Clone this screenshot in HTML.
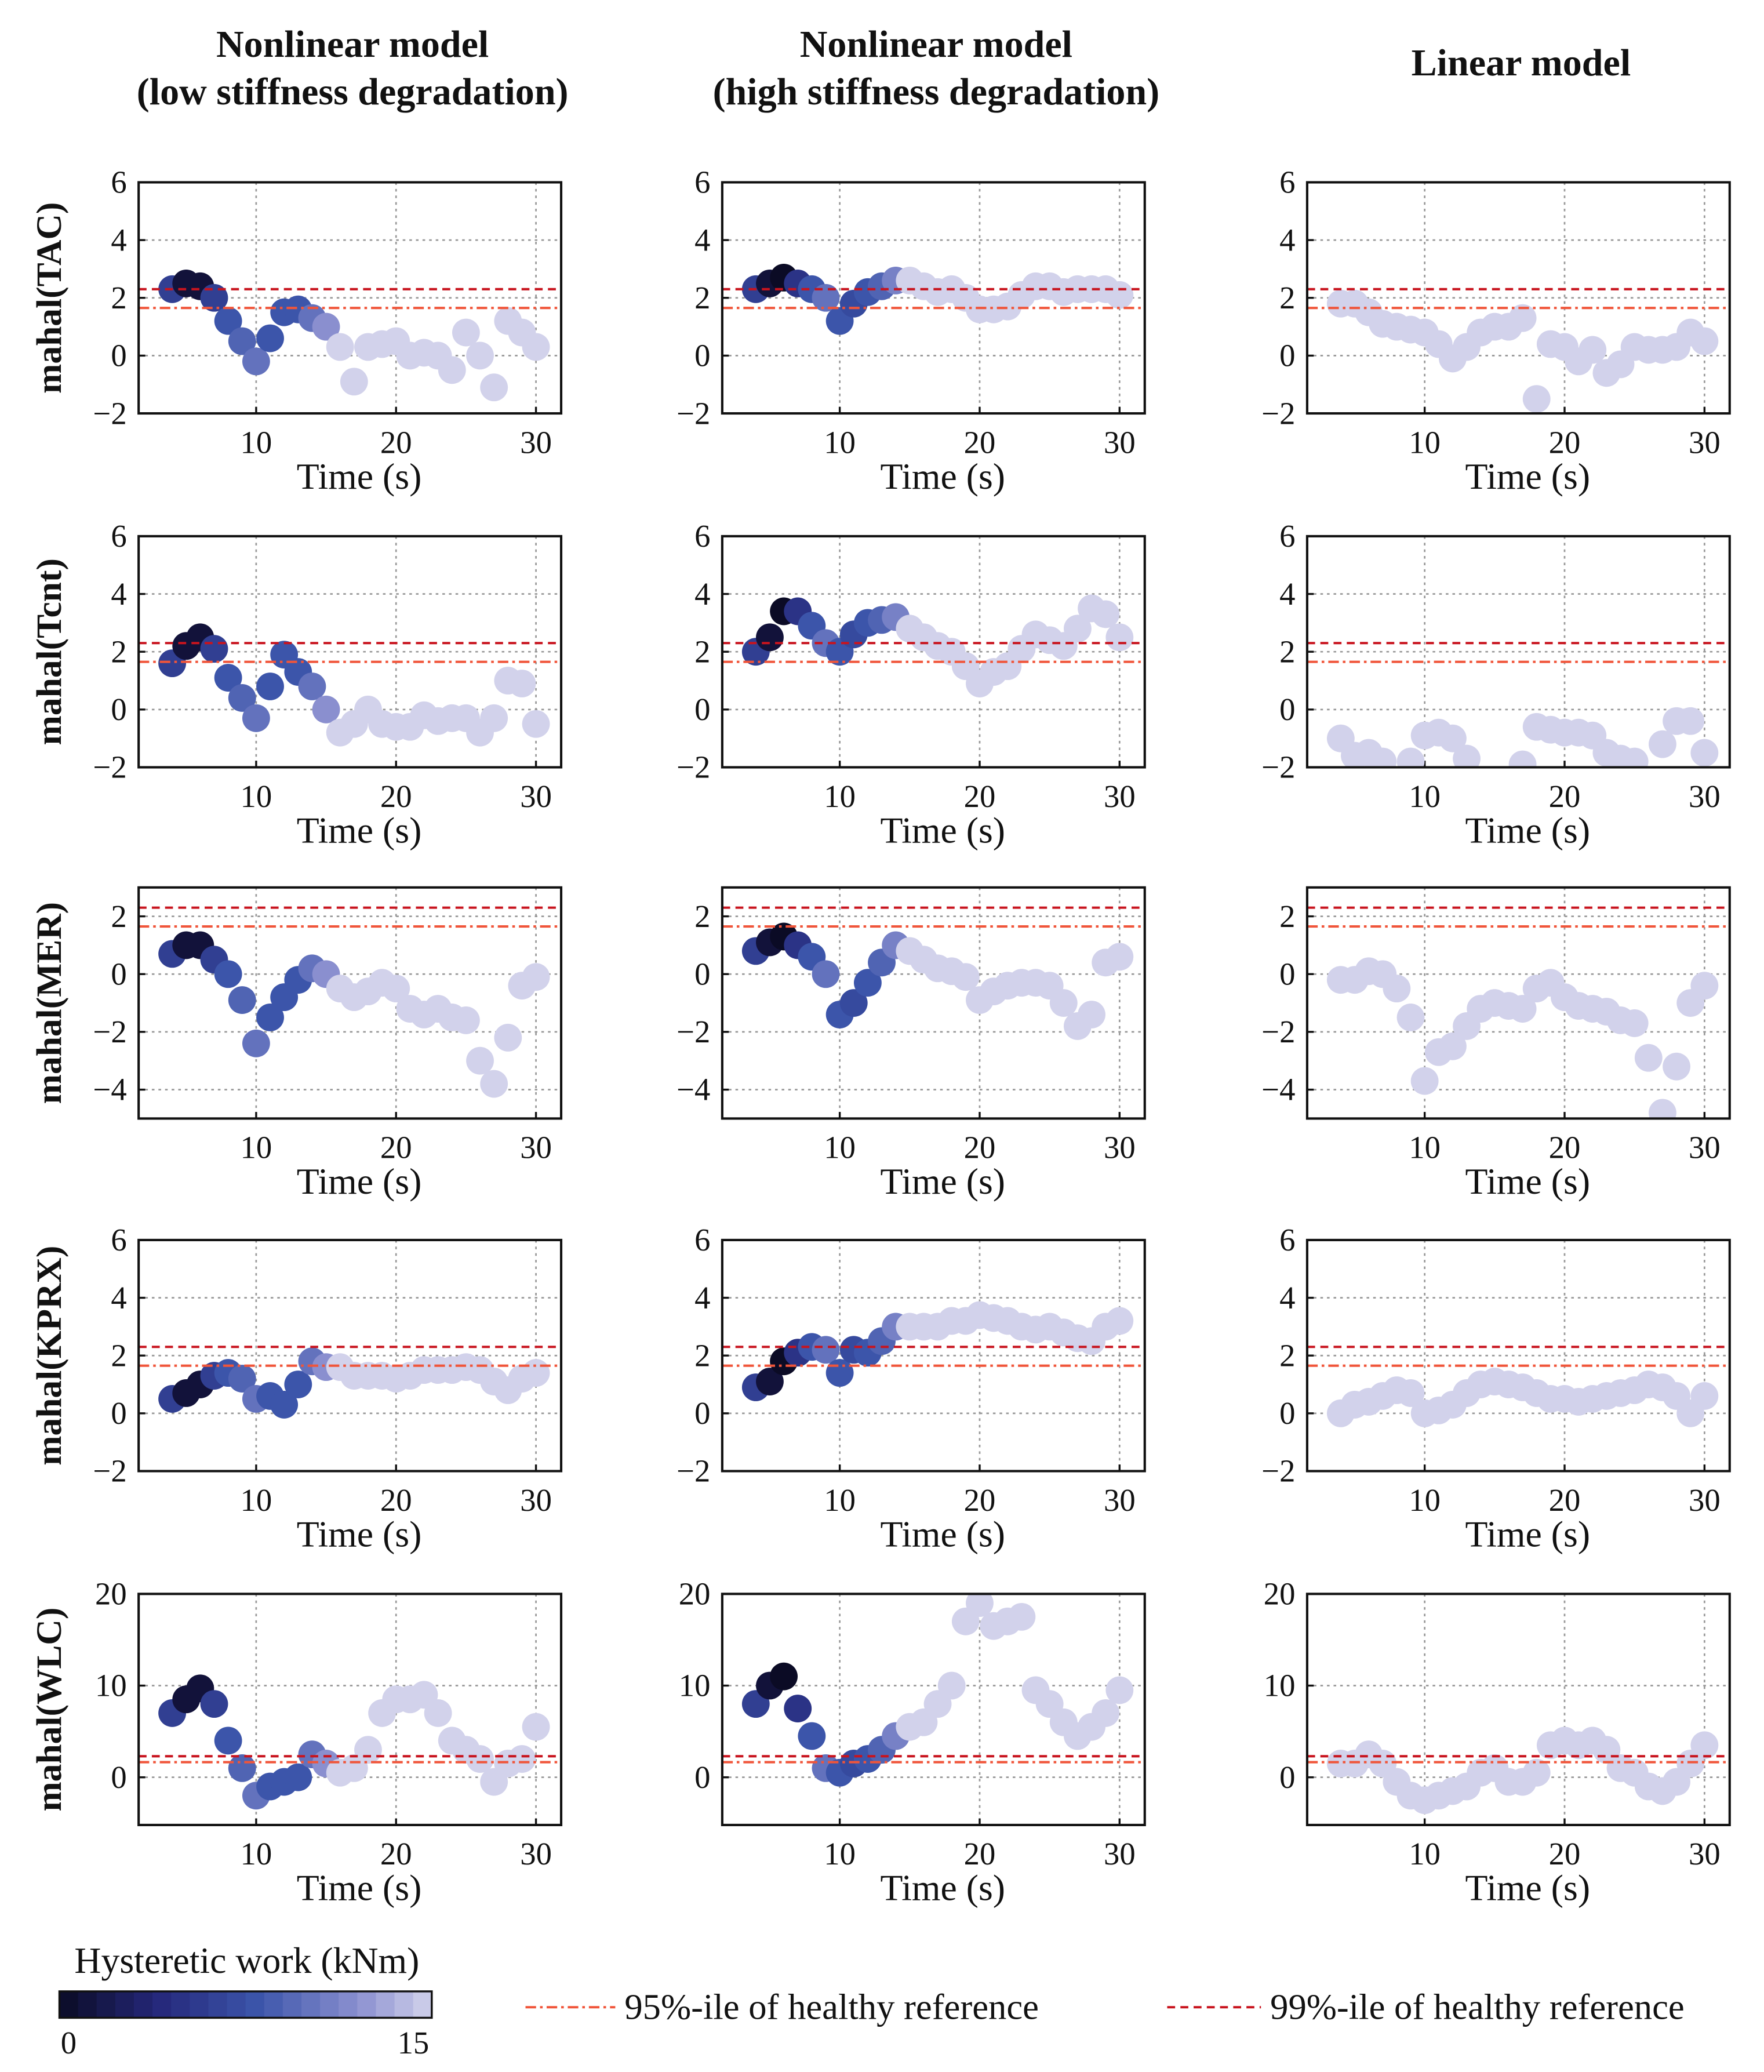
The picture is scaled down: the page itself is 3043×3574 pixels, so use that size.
<!DOCTYPE html>
<html><head><meta charset="utf-8">
<style>
html,body{margin:0;padding:0;background:#fff;}
svg{display:block;}
text{font-family:"Liberation Serif",serif;fill:#111;}
</style></head>
<body>
<svg id="chart" width="3043" height="3574" viewBox="0 0 1336 1569" xmlns="http://www.w3.org/2000/svg">
<rect width="1336" height="1569" fill="#fff"/>
</svg>
<script>
const times = [4,5,6,7,8,9,10,11,12,13,14,15,16,17,18,19,20,21,22,23,24,25,26,27,28,29,30];
const workLow = [6,1,1,6,8,9,10,8,8,8,10,12,15,15,15,15,15,15,15,15,15,15,15,15,15,15,15];
const workHigh = [6,1,0,5,8,10,8,7,8,9,11,15,15,15,15,15,15,15,15,15,15,15,15,15,15,15,15];
const workLin = [15,15,15,15,15,15,15,15,15,15,15,15,15,15,15,15,15,15,15,15,15,15,15,15,15,15,15];
const tacLow = [2.3,2.5,2.4,2.0,1.2,0.5,-0.2,0.6,1.5,1.6,1.3,1.0,0.3,-0.9,0.3,0.4,0.5,0.0,0.1,0.0,-0.5,0.8,0.0,-1.1,1.2,0.8,0.3];
const tacHigh = [2.3,2.5,2.7,2.5,2.3,2.0,1.2,1.8,2.2,2.4,2.6,2.6,2.4,2.2,2.3,2.0,1.6,1.6,1.7,2.1,2.4,2.4,2.2,2.3,2.3,2.3,2.1];
const tacLin = [1.8,1.8,1.5,1.1,1.0,0.9,0.8,0.4,-0.1,0.3,0.8,1.0,1.0,1.3,-1.5,0.4,0.3,-0.2,0.2,-0.6,-0.3,0.3,0.2,0.2,0.3,0.8,0.5];
const tcntLow = [1.6,2.2,2.5,2.1,1.1,0.4,-0.3,0.8,1.9,1.3,0.8,0.0,-0.8,-0.5,0.0,-0.5,-0.6,-0.6,-0.2,-0.4,-0.3,-0.3,-0.8,-0.3,1.0,0.9,-0.5];
const tcntHigh = [2.0,2.5,3.4,3.4,2.9,2.3,2.0,2.6,3.0,3.1,3.2,2.8,2.5,2.2,2.0,1.5,0.9,1.3,1.5,2.1,2.6,2.4,2.2,2.8,3.5,3.3,2.5];
const tcntLin = [-1.0,-1.6,-1.5,-1.8,-2.6,-1.8,-0.9,-0.8,-1.0,-1.7,-2.6,-2.6,-2.6,-1.9,-0.6,-0.7,-0.8,-0.8,-0.9,-1.5,-1.7,-1.8,-2.6,-1.2,-0.4,-0.4,-1.5];
const merLow = [0.7,1.0,1.0,0.5,0.0,-0.9,-2.4,-1.5,-0.8,-0.2,0.2,0.0,-0.5,-0.8,-0.6,-0.3,-0.5,-1.2,-1.4,-1.2,-1.5,-1.6,-3.0,-3.8,-2.2,-0.4,-0.1];
const merHigh = [0.8,1.1,1.3,1.0,0.6,0.0,-1.4,-1.0,-0.3,0.4,1.0,0.8,0.5,0.2,0.1,-0.1,-0.9,-0.6,-0.4,-0.3,-0.3,-0.4,-1.0,-1.8,-1.4,0.4,0.6];
const merLin = [-0.2,-0.2,0.1,0.0,-0.5,-1.5,-3.7,-2.7,-2.5,-1.8,-1.2,-1.0,-1.1,-1.2,-0.5,-0.3,-0.8,-1.1,-1.2,-1.3,-1.6,-1.7,-2.9,-4.8,-3.2,-1.0,-0.4];
const kprxLow = [0.5,0.7,1.0,1.3,1.4,1.2,0.5,0.6,0.3,1.0,1.8,1.6,1.6,1.3,1.3,1.3,1.2,1.3,1.5,1.5,1.5,1.6,1.5,1.1,0.8,1.2,1.4];
const kprxHigh = [0.9,1.1,1.8,2.1,2.3,2.2,1.4,2.2,2.1,2.5,3.0,3.0,3.0,3.0,3.2,3.2,3.4,3.3,3.2,3.0,2.9,3.0,2.8,2.6,2.5,3.0,3.2];
const kprxLin = [0.0,0.3,0.4,0.6,0.8,0.7,0.0,0.1,0.3,0.7,1.0,1.1,1.0,0.9,0.7,0.5,0.5,0.4,0.5,0.6,0.7,0.8,1.0,0.9,0.6,0.0,0.6];
const wlcLow = [7,8.5,9.7,8,4,1,-2,-1,-0.5,0,2.5,1.5,0.5,1,3,7,8.5,8.5,9,7,4,3,2,-0.5,1.5,2,5.5];
const wlcHigh = [8,10,11,7.5,4.5,1,0.5,1.5,2,3,4.5,5.5,6,8,10,17,19,16.5,17,17.5,9.5,8,6,4.5,5.5,7,9.5];
const wlcLin = [1.5,1.5,2.5,1.5,-0.5,-2,-2.5,-2,-1.5,-1,0.5,1,-0.5,-0.5,0.5,3.5,4,3.5,4,3,1,0.5,-1,-1.5,-0.5,1.5,3.5];
const xTicks = [10,20,30];
const rowNames = ["TAC","Tcnt","MER","KPRX","WLC"];
const yTicksRows = [[-2,0,2,4,6],[-2,0,2,4,6],[-4,-2,0,2],[-2,0,2,4,6],[0,10,20]];
const yDomains = [[-2,6],[-2,6],[-5,3],[-2,6],[-5.2,20]];
const colTitles = [["Nonlinear model","(low stiffness degradation)"],["Nonlinear model","(high stiffness degradation)"],["Linear model"]];
const thr95 = 1.65, thr99 = 2.3;
const series = [[tacLow,tacHigh,tacLin],[tcntLow,tcntHigh,tcntLin],[merLow,merHigh,merLin],[kprxLow,kprxHigh,kprxLin],[wlcLow,wlcHigh,wlcLin]];
const works = [workLow,workHigh,workLin];

const NS="http://www.w3.org/2000/svg";
const svg=document.getElementById('chart');
function el(tag,attrs,parent){const e=document.createElementNS(NS,tag);for(const k in attrs)e.setAttribute(k,attrs[k]);(parent||svg).appendChild(e);return e;}
const stops=[[0,[11,11,37]],[4,[37,40,122]],[8,[60,85,170]],[12,[138,143,207]],[15,[210,210,235]]];
function cmap(v){v=Math.max(0,Math.min(15,v));for(let i=0;i<stops.length-1;i++){const a=stops[i],b=stops[i+1];if(v<=b[0]){const f=(v-a[0])/(b[0]-a[0]);const c=a[1].map((x,j)=>Math.round(x+(b[1][j]-x)*f));return `rgb(${c[0]},${c[1]},${c[2]})`;}}return 'rgb(210,210,235)';}
const colX=[105,547,990], W=320;
const rowY=[138,406,672,939,1207], H=175;
const xDom=[1.6,31.8];
const defs=el('defs',{});
colTitles.forEach((t,c)=>{
  const cx=colX[c]+W/2+2;
  const tx=el('text',{x:cx,y:t.length>1?43:57,'text-anchor':'middle','font-size':29,'font-weight':'bold'});
  
  
  t.forEach((line,i)=>{const ts=el('tspan',{x:cx,dy:i?36:0},tx);ts.textContent=line;});
});
for(let r=0;r<5;r++){for(let c=0;c<3;c++){
  const x0=colX[c], y0=rowY[r], d=yDomains[r];
  const sx=t=>x0+(t-xDom[0])/(xDom[1]-xDom[0])*W;
  const sy=v=>y0+H-(v-d[0])/(d[1]-d[0])*H;
  const g=el('g',{});
  
  
  const cid=`clip${r}${c}`;
  const cp=el('clipPath',{id:cid},defs);el('rect',{x:x0,y:y0,width:W,height:H},cp);
  xTicks.forEach(t=>{el('line',{x1:sx(t),x2:sx(t),y1:y0,y2:y0+H,stroke:'#999','stroke-width':1.2,'stroke-dasharray':'2,3'},g);
    el('line',{x1:sx(t),x2:sx(t),y1:y0+H,y2:y0+H-5,stroke:'#111','stroke-width':1.5},g);
    const tl=el('text',{x:sx(t),y:y0+H+30,'text-anchor':'middle','font-size':24},g);tl.textContent=t;});
  yTicksRows[r].forEach(v=>{el('line',{x1:x0,x2:x0+W,y1:sy(v),y2:sy(v),stroke:'#999','stroke-width':1.2,'stroke-dasharray':'2,3'},g);
    el('line',{x1:x0,x2:x0+5,y1:sy(v),y2:sy(v),stroke:'#111','stroke-width':1.5},g);
    const tl=el('text',{x:x0-9,y:sy(v)+8,'text-anchor':'end','font-size':24},g);tl.textContent=(v<0?'\u2212'+(-v):v);});
  const pts=el('g',{'clip-path':`url(#${cid})`},g);
  
  
  const vals=series[r][c], wk=works[c];
  times.forEach((t,i)=>{const p=el('circle',{cx:sx(t),cy:sy(vals[i]),r:10.5,fill:cmap(wk[i])},pts);
    
    });
  const l95=el('line',{x1:x0,x2:x0+W,y1:sy(thr95),y2:sy(thr95),stroke:'#f0553a','stroke-width':1.8,'stroke-dasharray':'8,3,2,3'},g);
  
  
  const l99=el('line',{x1:x0,x2:x0+W,y1:sy(thr99),y2:sy(thr99),stroke:'#c8141e','stroke-width':1.8,'stroke-dasharray':'6,4'},g);
  
  
  el('rect',{x:x0,y:y0,width:W,height:H,fill:'none',stroke:'#111','stroke-width':1.8},g);
  const xl=el('text',{x:x0+W/2+7,y:y0+H+57,'text-anchor':'middle','font-size':28},g);xl.textContent='Time (s)';
  
  
  if(c===0){const yl=el('text',{x:0,y:0,transform:`translate(46,${y0+H/2}) rotate(-90)`,'text-anchor':'middle','font-size':27,'font-weight':'bold'},g);
    yl.textContent=`mahal(${rowNames[r]})`;
    
    }
}}
const cb=el('g',{});


const ct=el('text',{x:187,y:1494,'text-anchor':'middle','font-size':28},cb);ct.textContent='Hysteretic work (kNm)';
const nseg=20;
for(let i=0;i<nseg;i++){el('rect',{x:45+i*282/nseg,y:1508,width:282/nseg+0.5,height:20,fill:cmap((i+0.5)*15/nseg)},cb);}
el('rect',{x:45,y:1508,width:282,height:20,fill:'none',stroke:'#111','stroke-width':1.5},cb);
const c0=el('text',{x:52,y:1555,'text-anchor':'middle','font-size':24},cb);c0.textContent='0';
const c1=el('text',{x:313,y:1555,'text-anchor':'middle','font-size':24},cb);c1.textContent='15';
const lg=el('g',{});


el('line',{x1:398,x2:466,y1:1520,y2:1520,stroke:'#f0553a','stroke-width':1.8,'stroke-dasharray':'8,3,2,3'},lg);
const t95=el('text',{x:473,y:1529,'font-size':27.5},lg);t95.textContent='95%-ile of healthy reference';
el('line',{x1:884,x2:955,y1:1520,y2:1520,stroke:'#c8141e','stroke-width':1.8,'stroke-dasharray':'6,4'},lg);
const t99=el('text',{x:962,y:1529,'font-size':27.5},lg);t99.textContent='99%-ile of healthy reference';
</script>
</body></html>
